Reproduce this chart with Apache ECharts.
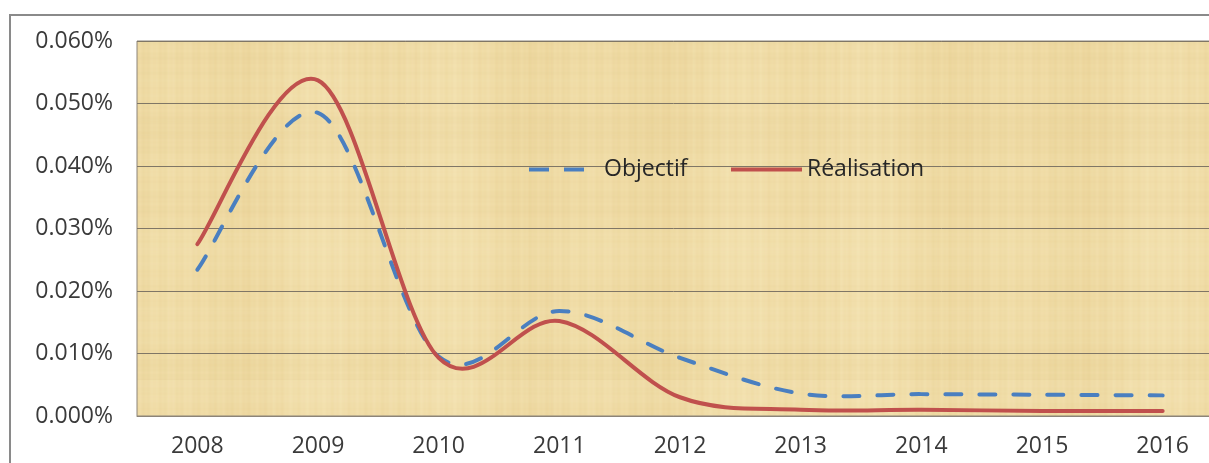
<!DOCTYPE html>
<html>
<head>
<meta charset="utf-8">
<script src="https://cdn.jsdelivr.net/npm/echarts@6/dist/echarts.min.js"></script>
<style>
  html, body { margin: 0; padding: 0; background: #ffffff; }
  #chart { width: 1209px; height: 463px; }
</style>
</head>
<body>
<div id="chart"></div>
<script>
// Years on the horizontal axis
const years = ['2008', '2009', '2010', '2011', '2012', '2013', '2014', '2015', '2016'];
// Rates in percent
const objectif = [0.0234, 0.0485, 0.0095, 0.0168, 0.0093, 0.0036, 0.0035, 0.0034, 0.0033];
const realisation = [0.0275, 0.0537, 0.0093, 0.0152, 0.0030, 0.0010, 0.0010, 0.0008, 0.0008];
// Value axis range and step (percent)
const yMin = 0;
const yMax = 0.06;
const yStep = 0.01;

// Papyrus-like fill for the plot area, built from layered sine fibres
function papyrusTexture() {
  const w = 420, h = 380;
  const c = document.createElement('canvas');
  c.width = w; c.height = h;
  const g = c.getContext('2d');
  g.fillStyle = '#f0dca6';
  g.fillRect(0, 0, w, h);
  // vertical fibres
  for (let x = 0; x < w; x++) {
    const v = Math.sin(x * 0.045) * 0.45 + Math.sin(x * 0.37 + 1.3) * 0.35 +
              Math.sin(x * 1.13 + 0.4) * 0.25 + Math.sin(x * 0.015 + 2.0) * 0.4;
    if (v > 0) {
      g.fillStyle = 'rgba(255,247,215,' + (0.16 * v).toFixed(3) + ')';
    } else {
      g.fillStyle = 'rgba(210,175,95,' + (-0.10 * v).toFixed(3) + ')';
    }
    g.fillRect(x, 0, 1, h);
  }
  // horizontal fibres
  for (let y = 0; y < h; y++) {
    const v = Math.sin(y * 0.08 + 0.7) * 0.4 + Math.sin(y * 0.41) * 0.3 +
              Math.sin(y * 1.27 + 0.2) * 0.2 + Math.sin(y * 0.021 + 2.1) * 0.4;
    if (v > 0) {
      g.fillStyle = 'rgba(255,248,220,' + (0.09 * v).toFixed(3) + ')';
    } else {
      g.fillStyle = 'rgba(200,165,90,' + (-0.06 * v).toFixed(3) + ')';
    }
    g.fillRect(0, y, w, 1);
  }
  return c;
}

// Smoothed line through every point of a series (Catmull-Rom, drawn as cubic Béziers)
function smoothLine(values, color, dash) {
  return function (params, api) {
    if (params.dataIndex !== 0) return null;
    const pts = values.map((v, i) => api.coord([i, v]));
    const n = pts.length;
    const P = i => pts[Math.max(0, Math.min(n - 1, i))];
    let d = 'M' + pts[0][0] + ',' + pts[0][1];
    for (let i = 0; i < n - 1; i++) {
      const p0 = P(i - 1), p1 = P(i), p2 = P(i + 1), p3 = P(i + 2);
      const c1x = p1[0] + (p2[0] - p0[0]) / 6, c1y = p1[1] + (p2[1] - p0[1]) / 6;
      const c2x = p2[0] - (p3[0] - p1[0]) / 6, c2y = p2[1] - (p3[1] - p1[1]) / 6;
      d += 'C' + c1x + ',' + c1y + ',' + c2x + ',' + c2y + ',' + p2[0] + ',' + p2[1];
    }
    return {
      type: 'path',
      shape: { pathData: d },
      style: {
        fill: 'none',
        stroke: color,
        lineWidth: 4,
        lineDash: dash || null,
        lineCap: 'round',
        lineJoin: 'round'
      }
    };
  };
}

const chart = echarts.init(document.getElementById('chart'), null, { renderer: 'canvas' });

const font = '"Open Sans", "Noto Sans", sans-serif';
const textColor = '#3a3a3a';
const legendText = { fontFamily: font, fontSize: 23, color: '#262626' };
const blue = '#4a7fc0';
const red = '#c0504d';

chart.setOption({
  animation: false,
  backgroundColor: '#ffffff',
  graphic: [{
    type: 'rect',
    shape: { x: 10, y: 15, width: 1400, height: 600 },
    style: { fill: 'none', stroke: '#8a8a8a', lineWidth: 2 },
    silent: true,
    z: -1
  }],
  grid: {
    left: 137,
    top: 41,
    bottom: 47,
    right: -14,
    outerBoundsMode: 'none',
    show: true,
    backgroundColor: { image: papyrusTexture(), repeat: 'repeat' },
    borderColor: '#8c8478',
    borderWidth: 1
  },
  legend: [
    {
      left: 529,
      top: 158,
      padding: 0,
      itemWidth: 70,
      itemHeight: 4,
      textStyle: legendText,
      data: [{ name: 'Objectif', icon: 'path://M0,0H20V4H0Z M35,0H55V4H35Z M70,0V4Z' }]
    },
    {
      left: 731,
      top: 158,
      padding: 0,
      itemWidth: 71,
      itemHeight: 4,
      textStyle: legendText,
      data: [{ name: 'Réalisation', icon: 'rect' }]
    }
  ],
  xAxis: {
    type: 'category',
    data: years,
    boundaryGap: true,
    axisLine: { show: true, lineStyle: { color: '#8c8478', width: 1 } },
    axisTick: { show: false },
    axisLabel: { fontFamily: font, fontSize: 23, color: textColor, margin: 19 },
    splitLine: { show: false }
  },
  yAxis: {
    type: 'value',
    min: yMin,
    max: yMax,
    interval: yStep,
    axisLine: { show: false },
    axisTick: { show: false },
    axisLabel: {
      fontFamily: font,
      fontSize: 23,
      color: textColor,
      margin: 24,
      formatter: v => v.toFixed(3) + '%'
    },
    splitLine: { show: true, lineStyle: { color: '#7f7666', width: 1 } }
  },
  series: [
    {
      name: 'Objectif',
      type: 'custom',
      coordinateSystem: 'cartesian2d',
      data: objectif.map((v, i) => [i, v]),
      encode: { x: 0, y: 1 },
      itemStyle: { color: blue },
      renderItem: smoothLine(objectif, blue, [16, 18]),
      z: 3
    },
    {
      name: 'Réalisation',
      type: 'custom',
      coordinateSystem: 'cartesian2d',
      data: realisation.map((v, i) => [i, v]),
      encode: { x: 0, y: 1 },
      itemStyle: { color: red },
      renderItem: smoothLine(realisation, red, null),
      z: 4
    }
  ]
});
</script>
</body>
</html>
